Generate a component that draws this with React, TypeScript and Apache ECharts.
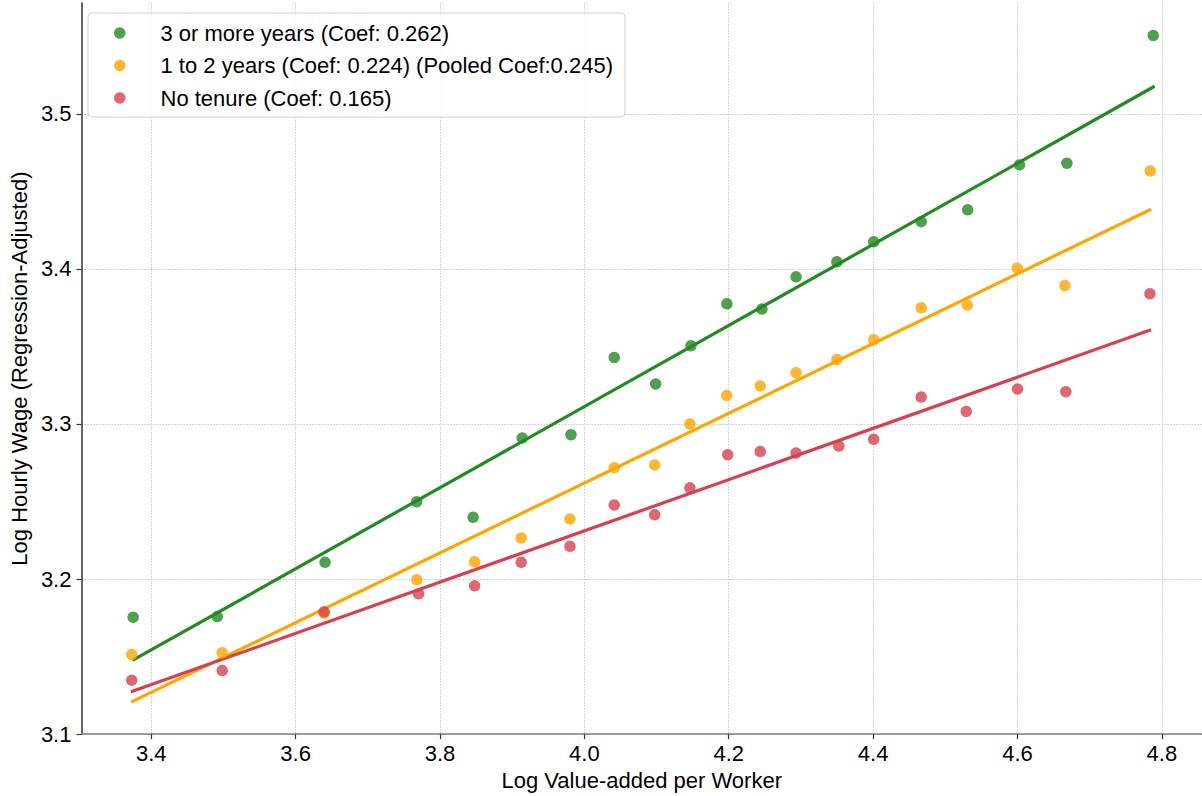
import React, { useEffect, useRef } from "react";
import * as echarts from "echarts";

const xTicks = [3.4, 3.6, 3.8, 4.0, 4.2, 4.4, 4.6, 4.8];
const yTicks = [3.1, 3.2, 3.3, 3.4, 3.5];

const seriesNames = [
  "3 or more years (Coef: 0.262)",
  "1 to 2 years (Coef: 0.224) (Pooled Coef:0.245)",
  "No tenure (Coef: 0.165)",
];

const greenX = [3.375, 3.4915, 3.6408, 3.7677, 3.8459, 3.9139, 3.9815, 4.0414, 4.0988, 4.1476, 4.1975, 4.246, 4.2933, 4.3498, 4.4008, 4.4666, 4.531, 4.6028, 4.6684, 4.788];
const greenY = [3.1754, 3.1758, 3.2108, 3.2499, 3.2398, 3.291, 3.2931, 3.3429, 3.3258, 3.3504, 3.3775, 3.3741, 3.3949, 3.4046, 3.4175, 3.4305, 3.4381, 3.4671, 3.4682, 3.5506];

const orangeX = [3.373, 3.4983, 3.6395, 3.768, 3.848, 3.9125, 3.98, 4.0414, 4.0974, 4.1462, 4.1972, 4.2436, 4.2933, 4.3498, 4.4008, 4.4666, 4.5305, 4.5997, 4.6657, 4.7839];
const orangeY = [3.1514, 3.1524, 3.178, 3.1995, 3.2111, 3.2265, 3.2388, 3.2718, 3.2736, 3.3, 3.3184, 3.3245, 3.3331, 3.3416, 3.3543, 3.3749, 3.3767, 3.4005, 3.3893, 3.4632];

const redX = [3.373, 3.4983, 3.6395, 3.7704, 3.848, 3.9125, 3.9801, 4.0414, 4.0974, 4.1462, 4.1986, 4.2436, 4.2933, 4.3526, 4.4008, 4.4666, 4.529, 4.6, 4.667, 4.7835];
const redY = [3.1348, 3.141, 3.1789, 3.1905, 3.1956, 3.2108, 3.2211, 3.2478, 3.2414, 3.2588, 3.2802, 3.2822, 3.2813, 3.2858, 3.2901, 3.3174, 3.3081, 3.3226, 3.3208, 3.384];

const greenFitX = [3.374, 4.79];
const greenFitY = [3.1475, 3.5178];
const orangeFitX = [3.372, 4.785];
const orangeFitY = [3.1206, 3.4385];
const redFitX = [3.372, 4.785];
const redFitY = [3.1273, 3.3608];

const colors = ["#228B22", "#FFA500", "#D8404E"];

const FONT = "'Liberation Sans', Arial, sans-serif";
const FS = 22;

const zip = (xs: number[], ys: number[]) => xs.map((x, i) => [x, ys[i]]);

export default function App() {
  const ref = useRef<HTMLDivElement>(null);
  useEffect(() => {
    if (!ref.current) return;
    const chart = echarts.init(ref.current, null, { renderer: "svg" });
    const pts = [zip(greenX, greenY), zip(orangeX, orangeY), zip(redX, redY)];
    const fits = [zip(greenFitX, greenFitY), zip(orangeFitX, orangeFitY), zip(redFitX, redFitY)];
    const series: any[] = [];
    fits.forEach((d, i) => {
      series.push({
        type: "line",
        data: d,
        showSymbol: false,
        symbol: "none",
        lineStyle: { color: colors[i], width: 3.2 },
        z: 2,
        silent: true,
      });
    });
    pts.forEach((d, i) => {
      series.push({
        name: seriesNames[i],
        type: "scatter",
        data: d,
        symbol: "circle",
        symbolSize: 11.5,
        itemStyle: { color: colors[i], opacity: 0.8 },
        z: 3,
      });
    });
    chart.setOption({
      animation: false,
      backgroundColor: "#ffffff",
      textStyle: { fontFamily: FONT },
      grid: { left: 77, right: 0, top: 3, bottom: 61.3, containLabel: false },
      legend: {
        data: seriesNames,
        orient: "vertical",
        left: 88,
        top: 13,
        padding: [8, 12, 7, 26],
        itemWidth: 11.5,
        itemHeight: 11.5,
        itemGap: 8.5,
        icon: "circle",
        borderColor: "#d0d0d0",
        borderWidth: 1,
        borderRadius: 4,
        backgroundColor: "rgba(255,255,255,0.85)",
        textStyle: {
          fontFamily: FONT,
          fontSize: FS,
          color: "#000",
          lineHeight: 24,
          padding: [0, 0, 0, 30],
        },
      },
      xAxis: {
        type: "value",
        min: 3.3034,
        max: 4.8556,
        name: "Log Value-added per Worker",
        nameLocation: "middle",
        nameGap: 33,
        nameTextStyle: { fontFamily: FONT, fontSize: FS, color: "#000" },
        axisLine: { show: true, lineStyle: { color: "#808080", width: 1.5 } },
        axisTick: { show: true, customValues: xTicks, length: 5, lineStyle: { color: "#333", width: 1.2 } },
        axisLabel: {
          customValues: xTicks,
          formatter: (v: number) => v.toFixed(1),
          fontFamily: FONT,
          fontSize: FS,
          color: "#000",
          margin: 8,
        },
        splitLine: { show: true, lineStyle: { color: "#c8c8c8", width: 1, type: [1.5, 1.5] } },
      },
      yAxis: {
        type: "value",
        min: 3.1,
        max: 3.5715,
        name: "Log Hourly Wage (Regression-Adjusted)",
        nameLocation: "middle",
        nameGap: 44,
        nameTextStyle: { fontFamily: FONT, fontSize: FS, color: "#000" },
        axisLine: { show: true, lineStyle: { color: "#333", width: 1.5 } },
        axisTick: { show: true, customValues: yTicks, length: 5, lineStyle: { color: "#333", width: 1.2 } },
        axisLabel: {
          customValues: yTicks,
          formatter: (v: number) => v.toFixed(1),
          fontFamily: FONT,
          fontSize: FS,
          color: "#000",
          margin: 10,
        },
        splitLine: { show: true, lineStyle: { color: "#c8c8c8", width: 1, type: [1.5, 1.5] } },
      },
      series,
    });
    return () => chart.dispose();
  }, []);
  return (
    <div
      ref={ref}
      style={{ position: "absolute", left: 0, top: 0, width: 1202, height: 796, background: "#fff" }}
    />
  );
}
